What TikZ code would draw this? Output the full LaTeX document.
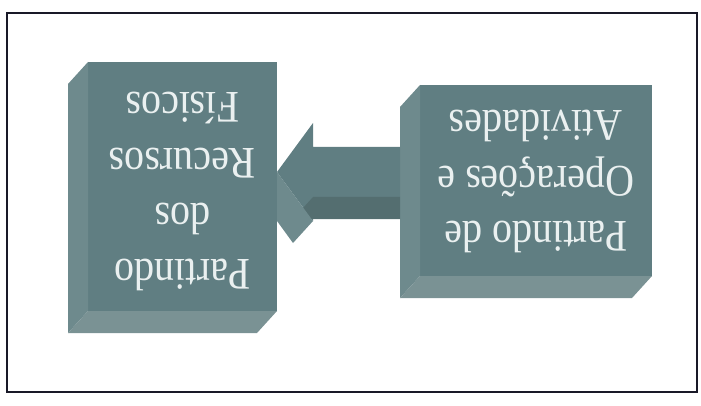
\documentclass[tikz,border=0pt]{standalone}
\usepackage{fontspec}
\setmainfont{Liberation Serif}
\usepackage{tikz}
\usetikzlibrary{calc, positioning}
\definecolor{boxface}{RGB}{96,126,130}
\definecolor{boxside}{RGB}{110,138,141}
\definecolor{boxbottom}{RGB}{122,146,148}
\definecolor{arrowshade}{RGB}{84,110,112}
\definecolor{boxtext}{RGB}{234,240,240}
\definecolor{framecolor}{RGB}{25,25,40}
\tikzset{
  faceshape/.style={fill=boxface, inner sep=0pt, outer sep=0pt},
  boxlabel/.style={text=boxtext, align=center, rotate=180, yscale=1.13,
                   font=\fontsize{40}{49}\selectfont},
}

\begin{document}
\begin{tikzpicture}[x=1pt, y=-1pt]
  \useasboundingbox (0,0) rectangle (701,406);
  \draw[framecolor, line width=2pt] (7,13) rectangle (697,392);

  % Front faces of the two blocks
  \node[faceshape, minimum width=189pt, minimum height=249pt]
    (fisicos) at (182.5,186.5) {};
  \node[faceshape, minimum width=232pt, minimum height=191pt]
    (operacoes) at (536,180.5) {};

  % Side and bottom faces (depth down-left)
  \foreach \bx in {fisicos,operacoes}{
    \fill[boxside] (\bx.north west) -- ++(-20,22)
      -- ($(\bx.south west)+(-20,22)$) -- (\bx.south west) -- cycle;
    \fill[boxbottom] (\bx.south west) -- ++(-20,22)
      -- ($(\bx.south east)+(-20,22)$) -- (\bx.south east) -- cycle;
  }

  % Block arrow: from operacoes to fisicos
  \coordinate (tip) at ($(fisicos.east)+(0,-14.5)$);
  \coordinate (tail) at ($(operacoes.west)+(-20,-8.5)$);
  \fill[boxface] ($(tail)+(0,-25)$) -- ($(tip)+(36,-25)$)
    -- ($(tip)+(36,-49)$) -- (tip) -- ($(tip)+(36,49)$)
    -- ($(tip)+(36,25)$) -- ($(tail)+(0,25)$) -- cycle;
  \fill[arrowshade] ($(tip)+(36,25)$) -- ($(tail)+(0,25)$)
    -- ($(tail)+(0,47)$) -- ($(tip)+(16,47)$) -- cycle;
  \fill[boxside] (tip) -- ($(tip)+(36,49)$)
    -- ($(tip)+(16,71)$) -- ($(tip)+(0,49)$) -- cycle;

  % Labels (printed upside down)
  \node[boxlabel] (fisicostxt) at ($(fisicos.center)+(0,5)$)
    {Partindo\\dos\\Recursos\\Físicos};
  \node[boxlabel] (operacoestxt) at ($(operacoes.center)+(0,1)$)
    {Partindo de\\Operações e\\Atividades};
\end{tikzpicture}
\end{document}
